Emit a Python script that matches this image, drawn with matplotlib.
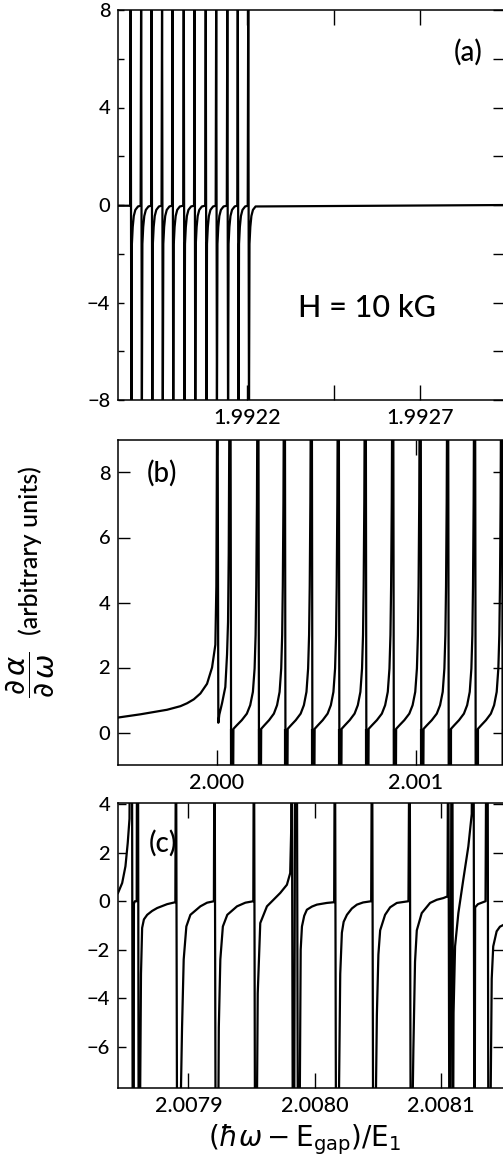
import matplotlib
matplotlib.use('Agg')
import matplotlib.pyplot as plt

plt.rcParams['font.family'] = ['Lato', 'DejaVu Sans']
plt.rcParams['font.weight'] = 'medium'
plt.rcParams['mathtext.fontset'] = 'dejavusans'

# ---- panel (a), H = 10 kG ----
res_a = [1.9918635, 1.9918938, 1.9919240, 1.9919542, 1.9919844, 1.9920168,
         1.9920480, 1.9920803, 1.9921105, 1.9921426, 1.9921728, 1.9922030]
# hook just after each resonance: offset from resonance, value
hook_a_dx = [0.0000021, 0.0000036, 0.0000060, 0.0000091, 0.0000136, 0.0000212]
hook_a_y = [-9.0, -1.6, -0.9, -0.45, -0.2, -0.06]
start_a, end_a = 1.991827, 1.99296
flat_a = -0.03

# ---- panel (b) ----
lead_b_x = [1.9995023, 1.9996152, 1.9997491, 1.9998160, 1.9998495, 1.9998830,
            1.9999162, 1.9999498, 1.9999749, 1.9999915, 1.9999965, 2.0000000,
            2.0000030, 2.0000065, 2.0000115, 2.0000251, 2.0000416, 2.0000502,
            2.0000552, 2.0000587]
lead_b_y = [0.46, 0.56, 0.70, 0.81, 0.90, 1.02, 1.2, 1.5, 2.0, 2.7, 4.5, 9.5,
            9.5, 0.3, 0.55, 0.9, 1.4, 2.4, 3.4, 5.5]
res_b = [2.0000617, 2.0002022, 2.0003352, 2.0004706, 2.0006061, 2.0007416,
         2.0008796, 2.0010176, 2.0011556, 2.0012910, 2.0014265, 2.0015620]
# one period between resonances: fraction of spacing, value
seg_b_frac = [0.045, 0.065, 0.08, 0.095, 0.11, 0.125, 0.135, 0.145, 0.265,
              0.446, 0.627, 0.747, 0.843, 0.904, 0.94, 0.964, 0.988]
seg_b_y = [9.5, -1.5, -1.5, 0.05, -1.5, -1.5, -1.5, 0.11, 0.22,
           0.38, 0.58, 0.84, 1.25, 1.97, 3.0, 4.5, 7.1]
bar_b_frac, bar_b_top = 0.10, 0.11   # dense bundle just above each resonance

# ---- panel (c) ----
c_x = [2.0078443, 2.0078476, 2.0078502, 2.0078520, 2.0078534, 2.0078540,
       2.0078553, 2.0078559, 2.0078568, 2.0078569, 2.0078577, 2.0078591,
       2.0078594, 2.0078601, 2.0078606, 2.0078617, 2.0078625, 2.0078634,
       2.0078648, 2.0078674, 2.0078713, 2.0078753, 2.0078832, 2.0078897,
       2.0078902, 2.0078910, 2.0078937, 2.0078950, 2.0078963, 2.0078984,
       2.0079016, 2.0079095, 2.0079148, 2.0079202,
       2.0079207, 2.0079215, 2.0079237, 2.0079241, 2.0079253, 2.0079273,
       2.0079308, 2.0079385, 2.0079451, 2.0079514,
       2.0079519, 2.0079527, 2.0079542, 2.0079549, 2.0079569, 2.0079622,
       2.0079674, 2.0079727, 2.0079780, 2.0079806, 2.0079814, 2.0079818,
       2.0079826, 2.0079838, 2.0079846, 2.0079858, 2.0079866, 2.0079881,
       2.0079889, 2.0079899, 2.0079917, 2.0079938, 2.0079978, 2.0080017,
       2.0080096, 2.0080154,
       2.0080160, 2.0080168, 2.0080190, 2.0080202, 2.0080215, 2.0080229,
       2.0080255, 2.0080294, 2.0080334, 2.0080383, 2.0080447,
       2.0080454, 2.0080462, 2.0080482, 2.0080492, 2.0080504, 2.0080518,
       2.0080557, 2.0080597, 2.0080650, 2.0080742,
       2.0080751, 2.0080759, 2.0080773, 2.0080781, 2.0080794, 2.0080808,
       2.0080847, 2.0080913, 2.0080966, 2.0081018, 2.0081051,
       2.0081057, 2.0081065, 2.0081075, 2.0081083, 2.0081089, 2.0081095,
       2.0081099, 2.0081111, 2.0081137, 2.0081176, 2.0081216, 2.0081243,
       2.0081249, 2.0081257, 2.0081263, 2.0081267, 2.0081270, 2.0081292,
       2.0081352, 2.0081360, 2.0081368, 2.0081374, 2.0081391, 2.0081401,
       2.0081413, 2.0081440, 2.0081466, 2.0081522]
c_y = [0.34, 0.75, 1.44, 2.4, 3.4, 9.0,
       9.0, -9.0, -9.0, -0.1, 0.0, 0.0,
       9.0, 9.0, -9.0, -9.0, -3.0, -1.1,
       -0.75, -0.56, -0.4, -0.28, -0.12, -0.04,
       9.0, -9.0, -9.0, -5.2, -2.4, -1.04,
       -0.56, -0.21, -0.06, 0.0,
       9.0, -9.0, -9.0, -5.2, -2.4, -1.04,
       -0.56, -0.21, -0.06, 0.0,
       9.0, -9.0, -9.0, -3.8, -0.9, -0.21,
       0.06, 0.34, 0.68, 1.16, 3.0, 9.0,
       -9.0, -9.0, 9.0, 9.0, -9.0, -9.0,
       -2.0, -1.04, -0.6, -0.35, -0.22, -0.14,
       -0.07, -0.04,
       9.0, -9.0, -9.0, -3.0, -1.3, -0.85,
       -0.56, -0.3, -0.14, -0.05, 0.0,
       9.0, -9.0, -9.0, -4.7, -2.2, -1.2,
       -0.56, -0.25, -0.07, 0.0,
       9.0, -9.0, -9.0, -6.1, -2.5, -1.2,
       -0.49, -0.07, 0.06, 0.13, 0.2,
       9.0, -9.0, -9.0, 9.0, 9.0, -9.0,
       -4.6, -1.86, -0.49, 0.89, 2.26, 3.6,
       9.0, 9.0, -9.0, -9.0, -0.25, -0.12,
       0.0, 9.0, 9.0, -9.0, -9.0, -3.2,
       -1.86, -1.24, -1.05, -0.9]

# build the curves of (a) and (b)
xa, ya = [start_a], [flat_a]
for r in res_a:
    xa += [r - 0.0000015, r]
    ya += [flat_a, 9.0]
    xa += [r + d for d in hook_a_dx]
    ya += hook_a_y
xa.append(end_a)
ya.append(0.0)

xb, yb = list(lead_b_x) + [res_b[0]], list(lead_b_y) + [9.5]
bars_b = []
for r0, r1 in zip(res_b[:-1], res_b[1:]):
    xb += [r0 + f * (r1 - r0) for f in seg_b_frac] + [r1]
    yb += seg_b_y + [9.5]
    bars_b.append(r0 + bar_b_frac * (r1 - r0))

W, H = 503, 1159
fig = plt.figure(figsize=(W / 100, H / 100), dpi=100)


def box(top, bottom, left=118, right=507):
    return [left / W, 1 - bottom / H, (right - left) / W, (bottom - top) / H]


ax_a = fig.add_axes(box(10, 400))
ax_b = fig.add_axes(box(440, 765))
ax_c = fig.add_axes(box(803, 1088))

lw = 1.6
ax_a.plot(xa, ya, color='black', lw=lw)
ax_b.plot(xb, yb, color='black', lw=lw)
ax_b.vlines(bars_b, -1.5, bar_b_top, color='black', lw=3.0)
ax_c.plot(c_x, c_y, color='black', lw=lw)

ax_a.set_xlim(1.991827, 1.992803)
ax_a.set_ylim(-8, 8)
ax_b.set_xlim(1.9995023, 2.001457)
ax_b.set_ylim(-1, 9)
ax_c.set_xlim(2.0078443, 2.0081522)
ax_c.set_ylim(-7.7, 4.05)

ya_ticks = [-8, -6, -4, -2, 0, 2, 4, 6, 8]
ya_labels = ['\u22128', '', '\u22124', '', '0', '', '4', '', '8']
yb_ticks = [0, 2, 4, 6, 8]
yc_ticks = [-6, -4, -2, 0, 2, 4]
xa_ticks = [1.9922, 1.99245, 1.9927, 1.99295]
xa_labels = ['1.9922', '', '1.9927', '']
xb_ticks = [2.000, 2.001]
xb_labels = ['2.000', '2.001']
xc_ticks = [2.0079, 2.0080, 2.0081]
xc_labels = ['2.0079', '2.0080', '2.0081']

ax_a.set_yticks(ya_ticks, ya_labels)
ax_b.set_yticks(yb_ticks, [str(t) for t in yb_ticks])
ax_c.set_yticks(yc_ticks, [str(t).replace('-', '\u2212') for t in yc_ticks])
ax_a.set_xticks(xa_ticks, xa_labels)
ax_b.set_xticks(xb_ticks, xb_labels)
ax_c.set_xticks(xc_ticks, xc_labels)

for ax, ylen, yt in [(ax_a, 4.5, ya_ticks), (ax_b, 8.5, yb_ticks),
                     (ax_c, 5.8, yc_ticks)]:
    for s in ax.spines.values():
        s.set_linewidth(1.1)
    ax.tick_params(axis='x', direction='in', length=10.5, width=1.0,
                   top=True, bottom=True, labelsize=15.5, pad=6)
    ax.tick_params(axis='y', direction='in', length=ylen, width=1.0,
                   left=True, right=False, labelsize=14.5, pad=5.5)
    sec = ax.secondary_yaxis('right')
    sec.set_yticks(yt)
    sec.tick_params(direction='in', length=10, width=1.0, labelright=False)

fig.text(468 / W, 1 - 52 / H, '(a)', fontsize=20, ha='center', va='center')
fig.text(367 / W, 1 - 308 / H, 'H = 10 kG', fontsize=22, ha='center', va='center')
fig.text(162 / W, 1 - 473 / H, '(b)', fontsize=20, ha='center', va='center')
fig.text(163 / W, 1 - 843 / H, '(c)', fontsize=20, ha='center', va='center')

fig.text(305 / W, 1 - 1140 / H,
         r'$(\hbar\omega - \mathrm{E}_{\mathrm{gap}})/\mathrm{E}_1$',
         fontsize=20, ha='center', va='center')
fig.text(30 / W, 1 - 675 / H, r'$\dfrac{\partial\,\alpha}{\partial\,\omega}$',
         fontsize=21, rotation=90, ha='center', va='center')
fig.text(30 / W, 1 - 551 / H, '(arbitrary units)',
         fontsize=18, rotation=90, ha='center', va='center')

fig.savefig('out.png', dpi=100)
